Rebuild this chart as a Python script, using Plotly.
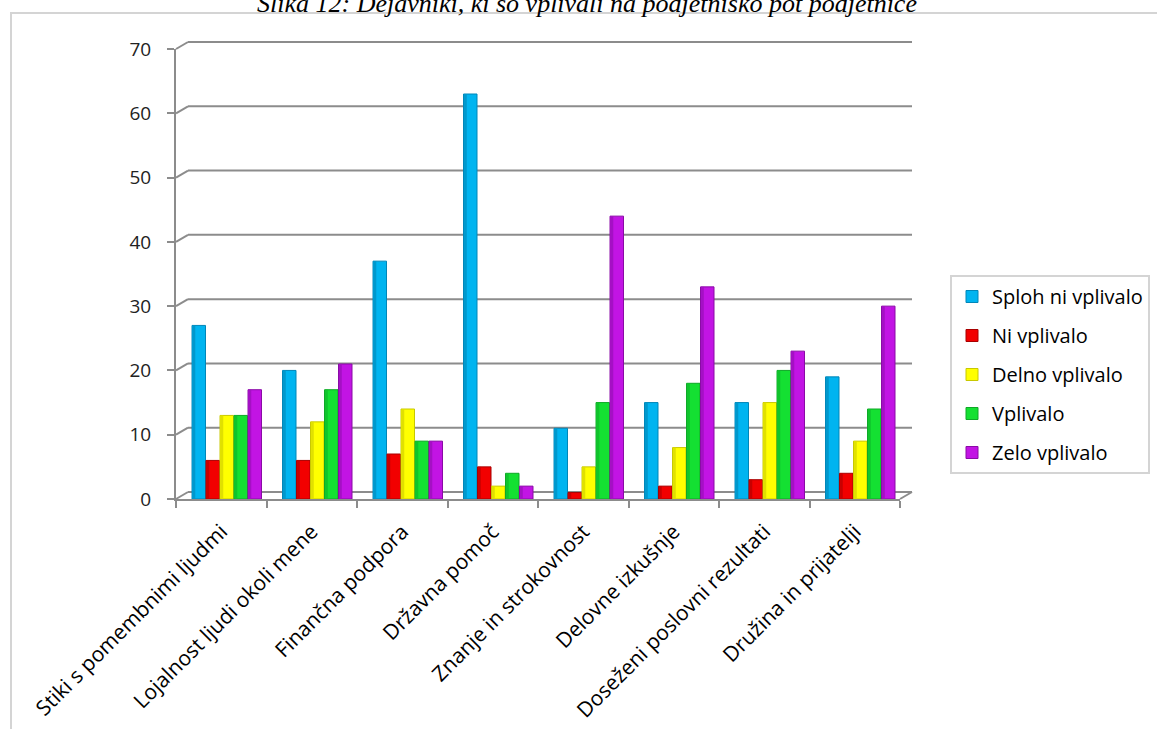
import plotly.graph_objects as go

# Factors that influenced the entrepreneurial path (number of answers)
categories = [
    "Stiki s pomembnimi ljudmi",
    "Lojalnost ljudi okoli mene",
    "Finančna podpora",
    "Državna pomoč",
    "Znanje in strokovnost",
    "Delovne izkušnje",
    "Doseženi poslovni rezultati",
    "Družina in prijatelji",
]
series_names = ["Sploh ni vplivalo", "Ni vplivalo", "Delno vplivalo", "Vplivalo", "Zelo vplivalo"]
sploh_ni_vplivalo = [27, 20, 37, 63, 11, 15, 15, 19]
ni_vplivalo = [6, 6, 7, 5, 1, 2, 3, 4]
delno_vplivalo = [13, 12, 14, 2, 5, 8, 15, 9]
vplivalo = [13, 17, 9, 4, 15, 18, 20, 14]
zelo_vplivalo = [17, 21, 9, 2, 44, 33, 23, 30]
y_ticks = [0, 10, 20, 30, 40, 50, 60, 70]

series_values = [sploh_ni_vplivalo, ni_vplivalo, delno_vplivalo, vplivalo, zelo_vplivalo]
fill_colors = ["#00B4F0", "#F20000", "#FFFF00", "#14E032", "#C214E4"]
edge_colors = ["#0086B8", "#A80000", "#C8C800", "#0EA826", "#8A0AA6"]
shade_colors = ["#0098CC", "#C80000", "#E0E000", "#10C42C", "#A410C4"]

W, H = 1157, 729
L, R, T, B = 176, 257, 49, 230
PW, PH = W - L - R, H - T - B
Y_MAX = 70


def px_x(p):
    return (p - L) / PW


def px_y(p):
    return (H - B - p) / PH


fig = go.Figure()
x_pos = list(range(len(categories)))
bar_w = 0.149
pitch = 0.1547
for k, (name, vals) in enumerate(zip(series_names, series_values)):
    off = -0.323 + k * pitch
    fig.add_trace(go.Bar(
        x=x_pos, y=vals, name=name,
        width=bar_w, offset=off,
        marker=dict(color=fill_colors[k], line=dict(color=edge_colors[k], width=1)),
        legendgroup=name,
    ))
    # darker strip on the left side of each column for a rounded look
    fig.add_trace(go.Bar(
        x=x_pos, y=vals, name=name,
        width=0.03, offset=off + 0.006,
        marker=dict(color=shade_colors[k], line=dict(width=0)),
        legendgroup=name, showlegend=False, hoverinfo="skip",
    ))

grid_col = "#8C8C8C"
# back-wall gridlines, set back from the axis by a small depth offset
dx = 12 / PW
dy = 7 / PH
shapes = []
for v in y_ticks:
    yv = v / Y_MAX
    shapes.append(dict(type="line", xref="paper", yref="paper", x0=dx, x1=px_x(912),
                       y0=yv + dy, y1=yv + dy, line=dict(color=grid_col, width=2), layer="below"))
    shapes.append(dict(type="line", xref="paper", yref="paper", x0=0, x1=dx,
                       y0=yv, y1=yv + dy, line=dict(color=grid_col, width=2), layer="below"))
# floor edge on the right
shapes.append(dict(type="line", xref="paper", yref="paper", x0=1.0, x1=px_x(912),
                   y0=0, y1=dy, line=dict(color=grid_col, width=2), layer="below"))
# outer frame
shapes.append(dict(type="rect", xref="paper", yref="paper", x0=px_x(11), x1=px_x(1175),
                   y0=px_y(760), y1=px_y(13), line=dict(color="#D4D4D4", width=2), layer="below"))

fig.update_layout(
    width=W, height=H,
    margin=dict(l=L, r=R, t=T, b=B, autoexpand=False),
    paper_bgcolor="white", plot_bgcolor="rgba(0,0,0,0)",
    barmode="overlay",
    font=dict(family="Open Sans", color="#000000"),
    shapes=shapes,
    showlegend=True,
    legend=dict(
        x=px_x(950), y=px_y(275), xanchor="left", yanchor="top",
        bordercolor="#D4D4D4", borderwidth=2, bgcolor="white",
        font=dict(family="Open Sans", size=20, color="#000000"),
        tracegroupgap=10, traceorder="grouped",
    ),
    annotations=[dict(
        text="<i>Slika 12: Dejavniki, ki so vplivali na podjetniško pot podjetnice</i>",
        xref="paper", yref="paper", x=px_x(587), y=px_y(3), xanchor="center", yanchor="middle",
        showarrow=False, font=dict(family="Liberation Serif", size=26, color="#000000"),
    )],
)

fig.update_xaxes(
    range=[-0.5, len(categories) - 0.5], automargin=False,
    tickmode="array", tickvals=x_pos, ticktext=categories,
    tickangle=-45, ticks="", tickfont=dict(family="Open Sans", size=21, color="#000000"),
    showline=True, linecolor=grid_col, linewidth=2, showgrid=False, zeroline=False,
    minor=dict(tick0=-0.5, dtick=1, ticks="outside", ticklen=7, tickwidth=2, tickcolor=grid_col, showgrid=False),
    ticklabelstandoff=10,
)
fig.update_yaxes(
    range=[0, Y_MAX], tickmode="array", tickvals=y_ticks, automargin=False,
    ticks="outside", ticklen=7, tickwidth=2, tickcolor=grid_col,
    showline=True, linecolor=grid_col, linewidth=2, showgrid=False, zeroline=False,
    tickfont=dict(family="Open Sans", size=19, color="#222222"),
    ticklabelstandoff=12,
)

fig.write_html("out.html")
